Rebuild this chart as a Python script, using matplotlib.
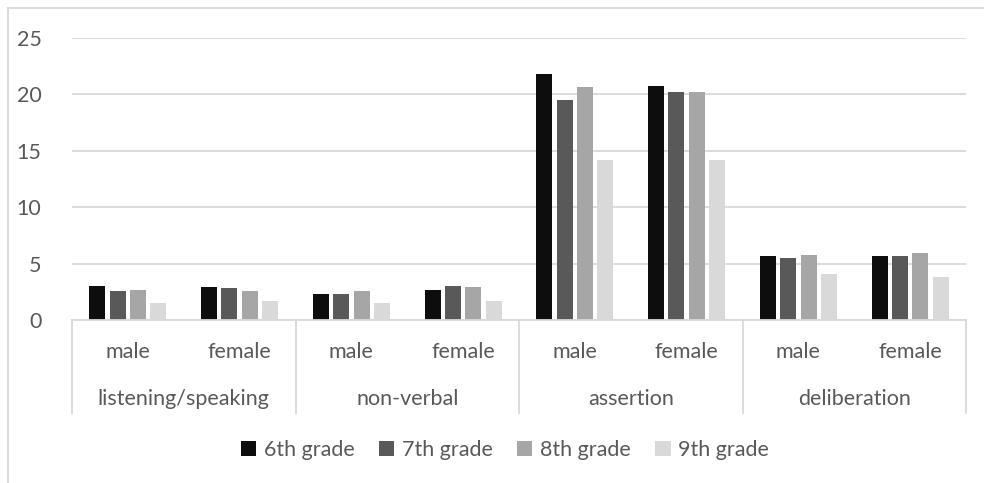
import matplotlib
matplotlib.use("Agg")
import matplotlib.pyplot as plt
from matplotlib.patches import Patch
from matplotlib.lines import Line2D
import numpy as np

groups = ["listening/speaking", "non-verbal", "assertion", "deliberation"]
genders = ["male", "female"]
series_names = ["6th grade", "7th grade", "8th grade", "9th grade"]
grade6 = [3.0, 2.9, 2.3, 2.7, 21.8, 20.7, 5.7, 5.7]
grade7 = [2.6, 2.8, 2.3, 3.0, 19.5, 20.2, 5.5, 5.7]
grade8 = [2.7, 2.6, 2.6, 2.9, 20.6, 20.2, 5.8, 5.9]
grade9 = [1.5, 1.7, 1.5, 1.7, 14.2, 14.2, 4.1, 3.8]
yticks = [0, 5, 10, 15, 20, 25]

colors = ["#0d0d0d", "#595959", "#a6a6a6", "#d9d9d9"]
text_color = "#595959"
grid_color = "#d9d9d9"

plt.rcParams['font.family'] = ['Lato', 'DejaVu Sans']

W, H = 984, 483
fig = plt.figure(figsize=(W / 100, H / 100), dpi=100)
x0, x1 = 72, 966
y0, ytop = 320, 37.7
ax = fig.add_axes([x0 / W, 1 - y0 / H, (x1 - x0) / W, (y0 - ytop) / H])

series = [grade6, grade7, grade8, grade9]
n = len(grade6)
xc = np.arange(n) + 0.5
bw = 0.143
step = 0.182
for i, (vals, c) in enumerate(zip(series, colors)):
    ax.bar(xc + (i - 1.5) * step, vals, width=bw, color=c, zorder=3)

fs = 15.5
ax.set_xlim(0, n)
ax.set_ylim(0, 25)
ax.set_yticks(yticks)
ax.set_yticklabels([str(t) for t in yticks], fontsize=fs, color=text_color)
ax.tick_params(axis='y', length=0, pad=22)
ax.set_xticks([])
ax.yaxis.grid(True, color=grid_color, linewidth=1.3)
ax.set_axisbelow(True)
for s in ax.spines.values():
    s.set_visible(False)

trans = ax.get_xaxis_transform()
axh = y0 - ytop
def yfrac(py):
    return (y0 - py) / axh

# category axis lines
ax.plot([0, n], [0, 0], transform=trans, color=grid_color, lw=1.3, clip_on=False, zorder=4)
for b in range(0, n + 1, 2):
    ax.plot([b, b], [0, yfrac(413)], transform=trans, color=grid_color, lw=1.3, clip_on=False)

for k in range(n):
    ax.text(xc[k], yfrac(352), genders[k % 2], transform=trans, ha='center', va='center',
            fontsize=fs, color=text_color)
for g, name in enumerate(groups):
    ax.text(2 * g + 1, yfrac(399), name, transform=trans, ha='center', va='center',
            fontsize=fs, color=text_color)

handles = [Patch(facecolor=c, edgecolor='none') for c in colors]
fig.legend(handles, series_names, loc='center', bbox_to_anchor=(505 / W, 1 - 450 / H),
           ncol=4, frameon=False, fontsize=fs, labelcolor=text_color,
           handlelength=0.7, handleheight=0.7, handletextpad=0.35, columnspacing=1.15)

# outer chart frame
fig.add_artist(Line2D([8 / W, 8 / W], [1 - 8 / H, 0], transform=fig.transFigure,
                      color=grid_color, lw=1.3))
fig.add_artist(Line2D([8 / W, 1], [1 - 8 / H, 1 - 8 / H], transform=fig.transFigure,
                      color=grid_color, lw=1.3))

fig.savefig("out.png", dpi=100, facecolor='white')
